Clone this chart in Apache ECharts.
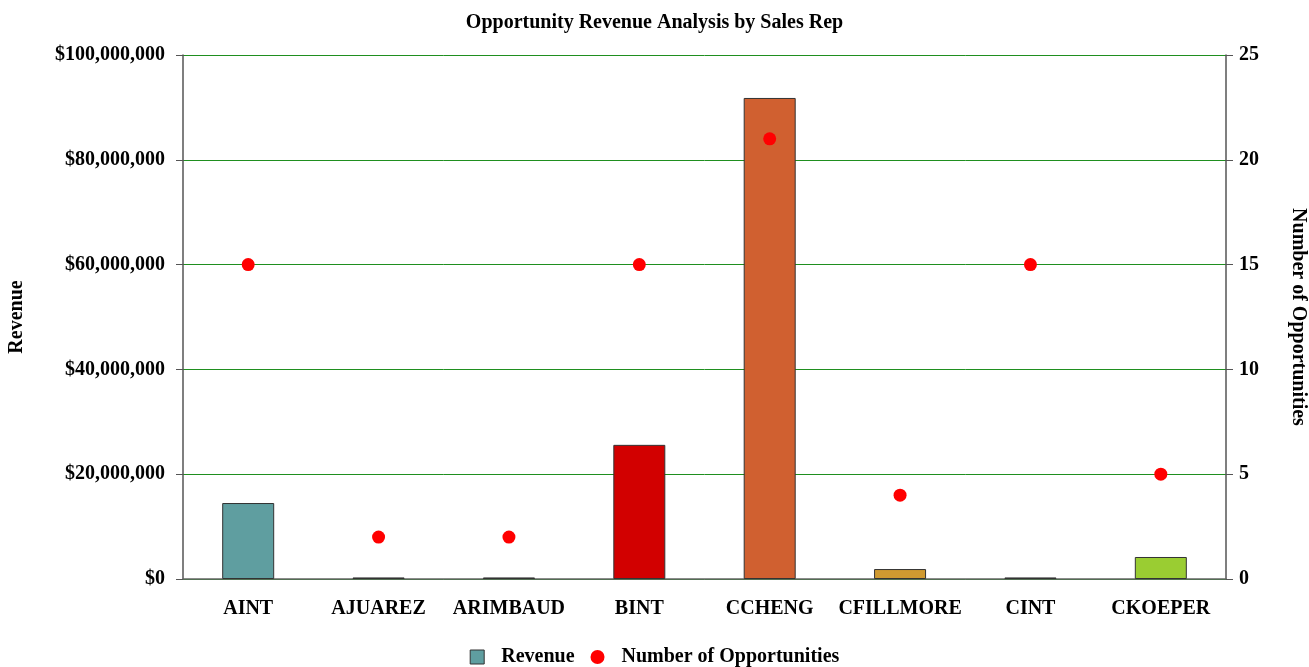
<!DOCTYPE html>
<html>
<head>
<meta charset="utf-8">
<script src="https://cdn.jsdelivr.net/npm/echarts@6/dist/echarts.min.js"></script>
<style>
  html, body { margin: 0; padding: 0; background: #fff; }
  #chart { width: 1309px; height: 667px; }
</style>
</head>
<body>
<div id="chart"></div>
<script>
// Sales reps on the category axis
const reps = ['AINT', 'AJUAREZ', 'ARIMBAUD', 'BINT', 'CCHENG', 'CFILLMORE', 'CINT', 'CKOEPER'];
// Total opportunity revenue per rep (USD)
const revenue = [14500000, 300000, 300000, 25600000, 91800000, 1900000, 300000, 4200000];
// Number of opportunities per rep
const opportunities = [15, 2, 2, 15, 21, 4, 15, 5];
// Bar fill per rep
const barColors = ['#5F9EA0', '#000000', '#000000', '#D20000', '#D06030', '#D09A30', '#000000', '#9ACD32'];

const serif = '"Liberation Serif", "DejaVu Serif", serif';
const FS = 20;
const fmtMoney = v => '$' + Math.round(v).toString().replace(/\B(?=(\d{3})+(?!\d))/g, ',');
const boldText = { fontFamily: serif, fontSize: FS, fontWeight: 'bold', color: '#000' };

const chart = echarts.init(document.getElementById('chart'));
chart.setOption({
  animation: false,
  textStyle: { fontFamily: serif },
  title: {
    text: 'Opportunity Revenue Analysis by Sales Rep',
    left: 'center', top: 8,
    textStyle: boldText
  },
  legend: {
    top: 642, left: 'center',
    itemWidth: 14, itemHeight: 14, itemGap: 16,
    textStyle: Object.assign({ padding: [0, 0, 0, 12] }, boldText),
    data: [
      { name: 'Revenue', icon: 'rect', itemStyle: { color: '#5F9EA0', borderColor: '#333', borderWidth: 1 } },
      { name: 'Number of Opportunities', icon: 'circle', itemStyle: { color: '#ff0000' } }
    ]
  },
  grid: { left: 183, right: 83, top: 55, bottom: 88, containLabel: false, outerBoundsMode: 'none' },
  xAxis: {
    type: 'category',
    data: reps,
    axisLine: { lineStyle: { color: '#666', width: 1.5 } },
    axisTick: { alignWithLabel: true, length: 7, lineStyle: { color: '#555' } },
    axisLabel: Object.assign({ margin: 20, interval: 0 }, boldText)
  },
  yAxis: [
    {
      type: 'value', min: 0, max: 100000000, interval: 20000000,
      name: 'Revenue', nameLocation: 'middle', nameGap: 156, nameRotate: 90,
      nameTextStyle: boldText,
      axisLine: { show: true, lineStyle: { color: '#555', width: 1.5 } },
      axisTick: { show: true, length: 7, lineStyle: { color: '#555' } },
      axisLabel: Object.assign({ margin: 18, formatter: fmtMoney }, boldText),
      splitLine: { show: true, lineStyle: { color: '#1f8f1f', width: 1 } }
    },
    {
      type: 'value', min: 0, max: 25, interval: 5,
      name: 'Number of Opportunities', nameLocation: 'middle', nameGap: 62, nameRotate: -90,
      nameTextStyle: boldText,
      axisLine: { show: true, lineStyle: { color: '#555', width: 1.5 } },
      axisTick: { show: true, length: 7, lineStyle: { color: '#555' } },
      axisLabel: Object.assign({ margin: 13 }, boldText),
      splitLine: { show: false }
    }
  ],
  series: [
    {
      name: 'Revenue',
      type: 'bar',
      yAxisIndex: 0,
      barWidth: 52,
      itemStyle: { color: '#5F9EA0', borderColor: '#333', borderWidth: 1 },
      data: revenue.map((v, i) => ({ value: v, itemStyle: { color: barColors[i] } }))
    },
    {
      name: 'Number of Opportunities',
      type: 'scatter',
      yAxisIndex: 1,
      symbol: 'circle',
      symbolSize: 13,
      itemStyle: { color: '#ff0000', opacity: 1 },
      z: 5,
      data: opportunities
    }
  ]
});
</script>
</body>
</html>
